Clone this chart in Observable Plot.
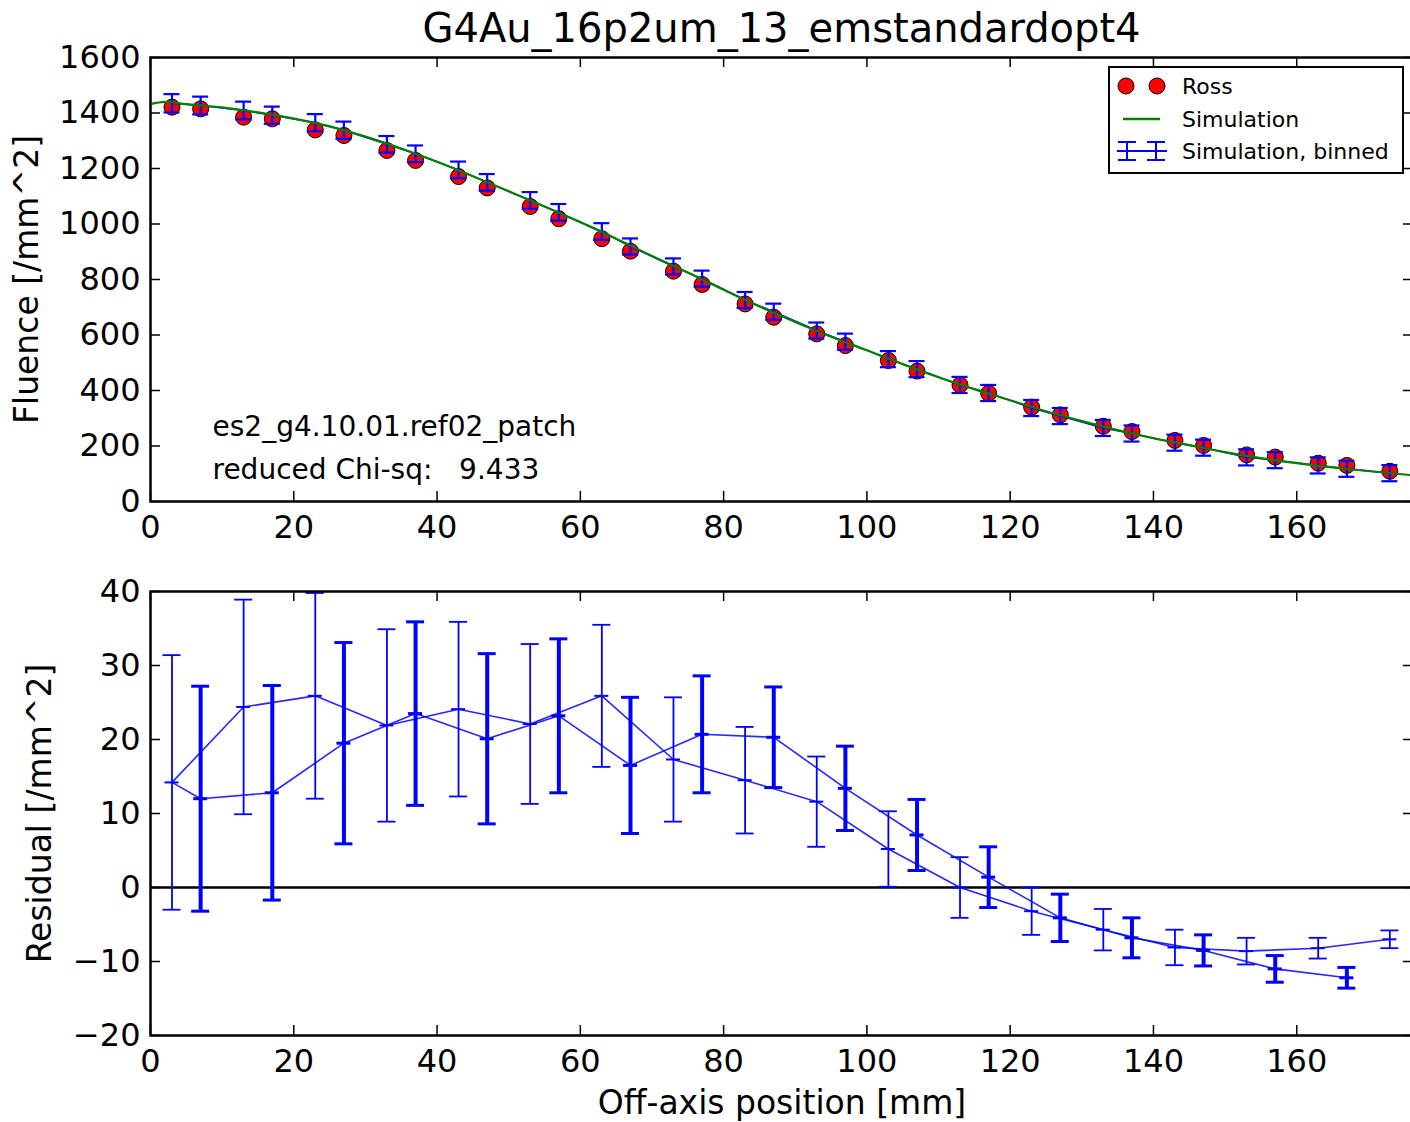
<!DOCTYPE html>
<html><head><meta charset="utf-8">
<script src="https://cdn.jsdelivr.net/npm/d3@7"></script>
<script src="https://cdn.jsdelivr.net/npm/@observablehq/plot@0.6"></script>
<style>
body{margin:0;background:#fff;width:1410px;height:1122px;overflow:hidden;position:relative;font-family:"DejaVu Sans",sans-serif;}
#title{position:absolute;left:150px;width:1263px;top:4px;text-align:center;font-size:40px;line-height:48px;color:#000;}
#top,#bottom{position:absolute;left:0;width:1414px}
#top{top:0}
#bottom{top:545px}
#legend{position:absolute;left:1108px;top:66px;font-family:"DejaVu Sans",sans-serif;}
</style></head><body>
<div id="top"></div>
<div id="bottom"></div>
<div id="title">G4Au_16p2um_13_emstandardopt4</div>
<svg id="legend" width="296" height="108">
  <rect x="1" y="1" width="294" height="106" fill="white" stroke="black" stroke-width="2"/>
  <circle cx="18" cy="20" r="8" fill="red" stroke="black" stroke-width="1"/>
  <circle cx="49" cy="20" r="8" fill="red" stroke="black" stroke-width="1"/>
  <text x="74" y="20" dominant-baseline="central" font-size="22">Ross</text>
  <line x1="15" x2="52" y1="53" y2="53" stroke="#008000" stroke-width="2.5"/>
  <text x="74" y="53" dominant-baseline="central" font-size="22">Simulation</text>
  <line x1="9" x2="59" y1="85" y2="85" stroke="blue" stroke-width="2"/>
  <line x1="19" x2="19" y1="76" y2="94" stroke="blue" stroke-width="2"/>
  <line x1="48" x2="48" y1="76" y2="94" stroke="blue" stroke-width="2"/>
  <line x1="10" x2="28" y1="76" y2="76" stroke="blue" stroke-width="2"/>
  <line x1="10" x2="28" y1="94" y2="94" stroke="blue" stroke-width="2"/>
  <line x1="39" x2="57" y1="76" y2="76" stroke="blue" stroke-width="2"/>
  <line x1="39" x2="57" y1="94" y2="94" stroke="blue" stroke-width="2"/>
  <text x="74" y="85" dominant-baseline="central" font-size="22">Simulation, binned</text>
</svg>
<script>
// ---------------- data ----------------
const rossX = [3,7,13,17,23,27,33,37,43,47,53,57,63,67,73,77,83,87,93,97,103,107,113,117,123,127,133,137,143,147,153,157,163,167,173];
const ross = [1421,1415,1385,1379,1339,1319,1265,1229,1171,1130,1063,1019,947,902,830,782,712,664,604,562,508,470,420,390,340,312,271,252,220,202,168,160,138,130,109];
const simBinned = [1435,1427,1409,1392,1365,1338,1287,1253,1195,1150,1085,1042,973,919,847,803,726,684,616,576,513,477,420,391,337,308,265,245,212,194,159,149,130,118,102];
const simBinnedErr = [33,32,32,31,31,31,30,30,30,30,30,30,30,29,29,29,29,29,29,29,29,29,29,29,29,29,29,29,29,29,29,29,29,29,29];

const simX = [0,2,5,10,15,20,25,30,35,40,45,50,55,60,65,70,75,80,85,90,95,100,105,110,115,120,125,130,135,140,145,150,155,160,165,170,176];
const simY = [1432,1440,1432,1420,1402,1380,1352,1315,1272,1224,1172,1118,1063,1006,947,885,825,763,703,647,594,545,495,448,405,365,325,290,257,228,203,178,156,138,123,110,95];

const resThinX = [3,13,23,33,43,53,63,73,83,93,103,113,123,133,143,153,163,173];
const resThin = [14.2,24.4,25.9,21.9,24.1,22.1,25.9,17.3,14.5,11.6,5.2,0.0,-3.2,-5.7,-8.1,-8.6,-8.2,-7.0];
const resThinErr = [17.2,14.5,13.9,13.0,11.8,10.8,9.6,8.4,7.2,6.1,5.1,4.1,3.2,2.8,2.4,1.8,1.4,1.2];

const resThickX = [7,17,27,37,47,57,67,77,87,97,107,117,127,137,147,157,167];
const resThick = [12.0,12.8,19.5,23.5,20.1,23.2,16.5,20.7,20.3,13.4,7.1,1.4,-4.1,-6.8,-8.5,-11.0,-12.2];
const resThickErr = [15.2,14.5,13.6,12.4,11.5,10.4,9.2,7.9,6.8,5.7,4.8,4.1,3.2,2.7,2.1,1.8,1.4];

const xTicks = [0,20,40,60,80,100,120,140,160];
const yTicksTop = [0,200,400,600,800,1000,1200,1400,1600];
const yTicksBottom = [-20,-10,0,10,20,30,40];

const annotation = ["es2_g4.10.01.ref02_patch", "reduced Chi-sq:\u00a0\u00a0\u00a09.433"];

// ---------------- layout ----------------
const W = 1414, ML = 150, MR = 1;
const FW = W - ML - MR;
const xDomain = [0, 176.3];
const fmt = d => d < 0 ? "\u2212" + Math.abs(d) : String(d);
const baseStyle = {fontFamily: "DejaVu Sans", fontSize: "32px", background: "transparent", overflow: "visible", color: "black", maxWidth: "none"};

function tickMarks(FH, yTicks) {
  return [
    Plot.tickX(xTicks, {x: d => d, insetTop: FH - 10, stroke: "black", strokeWidth: 1.5}),
    Plot.tickX(xTicks, {x: d => d, insetBottom: FH - 10, stroke: "black", strokeWidth: 1.5}),
    Plot.tickY(yTicks, {y: d => d, insetRight: FW - 10, stroke: "black", strokeWidth: 1.5}),
    Plot.tickY(yTicks, {y: d => d, insetLeft: FW - 10, stroke: "black", strokeWidth: 1.5})
  ];
}

function errorBars(data, width, capWidth, capHalf) {
  return [
    Plot.ruleX(data, {x: "x", y1: d => d.y - d.e, y2: d => d.y + d.e, stroke: "blue", strokeWidth: width}),
    Plot.ruleY(data, {y: d => d.y - d.e, x1: "x", x2: "x", insetLeft: -capHalf, insetRight: -capHalf, stroke: "blue", strokeWidth: capWidth}),
    Plot.ruleY(data, {y: d => d.y + d.e, x1: "x", x2: "x", insetLeft: -capHalf, insetRight: -capHalf, stroke: "blue", strokeWidth: capWidth})
  ];
}

// ---------------- top panel ----------------
{
  const H = 545, MT = 57, MB = 44, FH = H - MT - MB;
  const rossData = rossX.map((x, i) => ({x, y: ross[i]}));
  const binData = rossX.map((x, i) => ({x, y: simBinned[i], e: simBinnedErr[i]}));
  const simData = simX.map((x, i) => ({x, y: simY[i]}));
  const chart = Plot.plot({
    width: W, height: H, marginLeft: ML, marginRight: MR, marginTop: MT, marginBottom: MB,
    style: baseStyle,
    x: {domain: xDomain},
    y: {domain: [0, 1600]},
    marks: [
      Plot.dot(rossData, {x: "x", y: "y", r: 8, fill: "red", stroke: "black", strokeWidth: 1}),
      Plot.line(binData, {x: "x", y: "y", stroke: "blue", strokeWidth: 1.5}),
      ...errorBars(binData, 2.2, 2.2, 8),
      Plot.line(simData, {x: "x", y: "y", stroke: "#008000", strokeWidth: 2.2, curve: "catmull-rom"}),
      Plot.axisX({ticks: xTicks, tickSize: 0, tickPadding: 14, tickFormat: fmt, label: null}),
      Plot.axisY({ticks: yTicksTop, tickSize: 0, tickPadding: 10, tickFormat: fmt, label: null}),
      ...tickMarks(FH, yTicksTop),
      Plot.text(["Fluence [/mm^2]"], {text: d => d, frameAnchor: "left", dx: -123, rotate: -90, textAnchor: "middle", lineAnchor: "middle", fontSize: 33}),
      Plot.text([annotation[0]], {text: d => d, frameAnchor: "bottom-left", dx: 62, dy: -74, textAnchor: "start", lineAnchor: "middle", fontSize: 28}),
      Plot.text([annotation[1]], {text: d => d, frameAnchor: "bottom-left", dx: 62, dy: -31, textAnchor: "start", lineAnchor: "middle", fontSize: 28}),
      Plot.frame({stroke: "black", strokeWidth: 2.5})
    ]
  });
  document.getElementById("top").appendChild(chart);
}

// ---------------- bottom panel ----------------
{
  const H = 577, MT = 46, MB = 87, FH = H - MT - MB;
  const thin = resThinX.map((x, i) => ({x, y: resThin[i], e: resThinErr[i]}));
  const thick = resThickX.map((x, i) => ({x, y: resThick[i], e: resThickErr[i]}));
  const thickLine = [{x: resThinX[0], y: resThin[0]}, ...thick];
  const chart = Plot.plot({
    width: W, height: H, marginLeft: ML, marginRight: MR, marginTop: MT, marginBottom: MB,
    style: baseStyle,
    x: {domain: xDomain},
    y: {domain: [-20, 40]},
    marks: [
      Plot.ruleY([0], {stroke: "black", strokeWidth: 2.5}),
      Plot.line(thin, {x: "x", y: "y", stroke: "blue", strokeWidth: 1.6, strokeOpacity: 0.85}),
      Plot.line(thickLine, {x: "x", y: "y", stroke: "blue", strokeWidth: 1.6, strokeOpacity: 0.85}),
      ...errorBars(thin, 1.8, 1.8, 9),
      ...errorBars(thick, 4, 3, 9),
      Plot.ruleY(thin, {y: "y", x1: "x", x2: "x", insetLeft: -7, insetRight: -7, stroke: "blue", strokeWidth: 2}),
      Plot.ruleY(thick, {y: "y", x1: "x", x2: "x", insetLeft: -7, insetRight: -7, stroke: "blue", strokeWidth: 3}),
      Plot.axisX({ticks: xTicks, tickSize: 0, tickPadding: 14, tickFormat: fmt, label: null}),
      Plot.axisY({ticks: yTicksBottom, tickSize: 0, tickPadding: 10, tickFormat: fmt, label: null}),
      ...tickMarks(FH, yTicksBottom),
      Plot.text(["Residual [/mm^2]"], {text: d => d, frameAnchor: "left", dx: -110, rotate: -90, textAnchor: "middle", lineAnchor: "middle", fontSize: 33}),
      Plot.text(["Off-axis position [mm]"], {text: d => d, frameAnchor: "bottom", dy: 68, textAnchor: "middle", lineAnchor: "middle", fontSize: 33}),
      Plot.frame({stroke: "black", strokeWidth: 2.5})
    ]
  });
  document.getElementById("bottom").appendChild(chart);
}
</script>
</body></html>
